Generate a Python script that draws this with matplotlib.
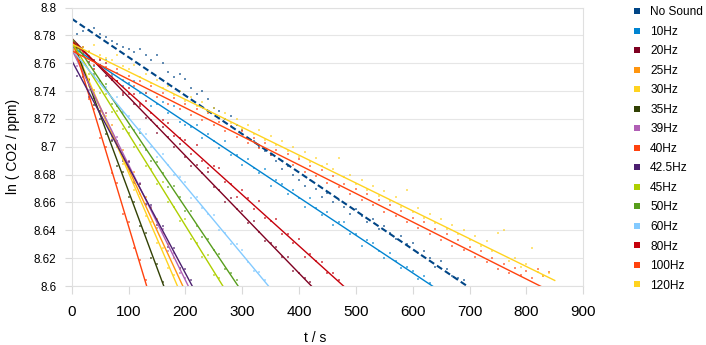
#!/usr/bin/python3

import numpy as np
import matplotlib
matplotlib.use("Agg")
import matplotlib.pyplot as plt
from matplotlib.lines import Line2D

plt.rcParams['font.family'] = ['Liberation Sans', 'DejaVu Sans']

STEP = 10  # seconds between the plotted readings

# ln(CO2/ppm) readings, one every STEP seconds starting at t = 0
no_sound = [8.778, 8.781, 8.783, 8.784, 8.785, 8.781, 8.779, 8.776, 8.774, 8.772,
            8.770, 8.768, 8.770, 8.766, 8.762, 8.766, 8.760, 8.754, 8.750, 8.752,
            8.749, 8.742, 8.738, 8.740, 8.734, 8.728, 8.726, 8.720, 8.722, 8.716,
            8.712, 8.706, 8.704, 8.700, 8.697, 8.694, 8.690, 8.684, 8.686, 8.680,
            8.676, 8.672, 8.676, 8.670, 8.664, 8.667, 8.660, 8.662, 8.657, 8.652,
            8.655, 8.650, 8.646, 8.648, 8.641, 8.643, 8.638, 8.634, 8.636, 8.630,
            8.631, 8.624, 8.625, 8.620, 8.614, 8.618, 8.612, 8.607, 8.606, 8.604]
hz10 = [8.777, 8.771, 8.766, 8.768, 8.758, 8.759, 8.762, 8.751, 8.753, 8.744,
        8.746, 8.747, 8.739, 8.739, 8.729, 8.731, 8.732, 8.724, 8.729, 8.718,
        8.716, 8.714, 8.716, 8.706, 8.709, 8.704, 8.699, 8.704, 8.694, 8.694,
        8.687, 8.691, 8.685, 8.681, 8.684, 8.672, 8.676, 8.673, 8.666, 8.669,
        8.663, 8.657, 8.663, 8.656, 8.651, 8.653, 8.644, 8.646, 8.646, 8.637,
        8.637, 8.629, 8.633, 8.631, 8.625, 8.620, 8.624, 8.618, 8.613, 8.614,
        8.611, 8.605, 8.607, 8.602]
hz20 = [8.781, 8.773, 8.772, 8.761, 8.762, 8.762, 8.751, 8.749, 8.747, 8.737,
        8.738, 8.731, 8.731, 8.721, 8.719, 8.710, 8.714, 8.707, 8.700, 8.702,
        8.693, 8.686, 8.687, 8.681, 8.682, 8.671, 8.669, 8.660, 8.663, 8.655,
        8.654, 8.645, 8.647, 8.639, 8.632, 8.631, 8.628, 8.621, 8.621, 8.611,
        8.609, 8.606, 8.603]
hz25 = [8.775, 8.767, 8.751, 8.749, 8.741, 8.726, 8.724, 8.716, 8.700, 8.698,
        8.690, 8.682, 8.673, 8.664, 8.656, 8.648, 8.638, 8.630, 8.620, 8.612]
hz30 = [8.779, 8.763, 8.760, 8.744, 8.741, 8.725, 8.722, 8.706, 8.703, 8.688,
        8.684, 8.669, 8.666, 8.650, 8.646, 8.631, 8.627, 8.613, 8.608]
hz35 = [8.776, 8.771, 8.752, 8.748, 8.730, 8.726, 8.709, 8.704, 8.686, 8.682,
        8.664, 8.660, 8.643, 8.638, 8.620, 8.616, 8.603]
hz39 = [8.773, 8.758, 8.756, 8.741, 8.739, 8.725, 8.724, 8.708, 8.707, 8.691,
        8.690, 8.675, 8.674, 8.658, 8.657, 8.642, 8.641, 8.625, 8.624, 8.609, 8.606]
hz40 = [8.781, 8.768, 8.755, 8.734, 8.727, 8.706, 8.700, 8.681, 8.674, 8.652,
        8.646, 8.627, 8.619, 8.604]
hz42_5 = [8.766, 8.751, 8.750, 8.736, 8.735, 8.720, 8.719, 8.705, 8.704, 8.690,
          8.689, 8.674, 8.673, 8.659, 8.658, 8.644, 8.643, 8.628, 8.627, 8.613,
          8.612, 8.604]
hz45 = [8.778, 8.765, 8.765, 8.752, 8.751, 8.739, 8.738, 8.725, 8.726, 8.713,
        8.710, 8.700, 8.701, 8.686, 8.684, 8.673, 8.675, 8.660, 8.657, 8.647,
        8.648, 8.634, 8.631, 8.621, 8.622, 8.608, 8.606]
hz50 = [8.780, 8.769, 8.767, 8.764, 8.752, 8.747, 8.745, 8.731, 8.729, 8.725,
        8.714, 8.712, 8.710, 8.698, 8.690, 8.689, 8.681, 8.671, 8.672, 8.664,
        8.654, 8.654, 8.643, 8.635, 8.634, 8.626, 8.623, 8.612, 8.609, 8.604]
hz60 = [8.769, 8.768, 8.758, 8.759, 8.750, 8.742, 8.743, 8.735, 8.736, 8.724,
        8.722, 8.712, 8.713, 8.709, 8.700, 8.693, 8.695, 8.687, 8.680, 8.678,
        8.675, 8.663, 8.664, 8.656, 8.652, 8.651, 8.640, 8.638, 8.630, 8.630,
        8.626, 8.617, 8.611, 8.610, 8.604]
hz80 = [8.780, 8.772, 8.767, 8.768, 8.756, 8.759, 8.760, 8.748, 8.747, 8.739,
        8.742, 8.738, 8.729, 8.733, 8.724, 8.715, 8.719, 8.717, 8.708, 8.706,
        8.705, 8.695, 8.701, 8.690, 8.685, 8.686, 8.685, 8.675, 8.673, 8.664,
        8.669, 8.663, 8.655, 8.661, 8.649, 8.647, 8.648, 8.637, 8.637, 8.631,
        8.634, 8.621, 8.623, 8.618, 8.617, 8.609, 8.609, 8.604]
hz100 = [8.776, 8.770, 8.768, 8.765, 8.759, 8.763, 8.757, 8.752, 8.756, 8.748,
         8.751, 8.744, 8.747, 8.739, 8.744, 8.736, 8.739, 8.731, 8.735, 8.727,
         8.731, 8.723, 8.727, 8.719, 8.724, 8.716, 8.718, 8.711, 8.715, 8.707,
         8.711, 8.703, 8.706, 8.699, 8.703, 8.694, 8.698, 8.690, 8.695, 8.687,
         8.691, 8.682, 8.686, 8.679, 8.683, 8.674, 8.679, 8.671, 8.673, 8.666,
         8.670, 8.662, 8.666, 8.658, 8.662, 8.653, 8.658, 8.650, 8.654, 8.646,
         8.649, 8.642, 8.646, 8.637, 8.641, 8.633, 8.637, 8.629, 8.633, 8.626,
         8.628, 8.621, 8.625, 8.617, 8.620, 8.612, 8.616, 8.609, 8.613, 8.608,
         8.611, 8.606, 8.612, 8.607, 8.610]
hz120 = [8.778, 8.774, 8.772, 8.769, 8.773, 8.766, 8.764, 8.762, 8.766, 8.758,
         8.756, 8.759, 8.750, 8.752, 8.746, 8.748, 8.742, 8.744, 8.737, 8.740,
         8.733, 8.736, 8.729, 8.732, 8.725, 8.728, 8.721, 8.724, 8.717, 8.720,
         8.713, 8.716, 8.709, 8.712, 8.705, 8.708, 8.701, 8.704, 8.697, 8.700,
         8.693, 8.696, 8.689, 8.692, 8.686, 8.688, 8.684, 8.692, 8.678, 8.680,
         8.673, 8.676, 8.669, 8.672, 8.665, 8.668, 8.661, 8.664, 8.657, 8.669,
         8.653, 8.656, 8.649, 8.652, 8.645, 8.648, 8.641, 8.644, 8.637, 8.640,
         8.633, 8.636, 8.629, 8.632, 8.625, 8.638, 8.640, 8.618, 8.620, 8.614,
         8.616, 8.627, 8.610, 8.607, 8.609]

labels = ["No Sound", "10Hz", "20Hz", "25Hz", "30Hz", "35Hz", "39Hz", "40Hz",
          "42.5Hz", "45Hz", "50Hz", "60Hz", "80Hz", "100Hz", "120Hz"]
readings = [no_sound, hz10, hz20, hz25, hz30, hz35, hz39, hz40,
            hz42_5, hz45, hz50, hz60, hz80, hz100, hz120]
# linear trend lines: ln value at t = 0 and slope per second
trend_start = [8.792, 8.772, 8.778, 8.772, 8.776, 8.778, 8.770, 8.778,
               8.762, 8.775, 8.778, 8.770, 8.776, 8.769, 8.774]
trend_slope = [-0.000276, -0.000271, -0.000422, -0.00088, -0.000946, -0.001099,
               -0.000829, -0.00135, -0.000764, -0.000658, -0.000608, -0.000491,
               -0.000368, -0.000205, -0.0002]
colors = ["#004586", "#0084d1", "#7e0021", "#ff950e", "#ffd320", "#314004",
          "#b05fb5", "#ff420e", "#4b1f6f", "#aecf00", "#579d1c", "#83caff",
          "#c5000b", "#ff420e", "#ffd320"]

fig = plt.figure(figsize=(7.06, 3.45), dpi=100)
ax = fig.add_axes([0.1016, 0.171, 0.7244, 0.807])

for vals, c in zip(readings, colors):
    t = np.arange(len(vals)) * STEP
    ax.plot(t, vals, linestyle="none", marker="s", markersize=2.0,
            markeredgewidth=0, color=c, alpha=0.6)

for i, vals in enumerate(readings):
    # trend spans the readings plus one step, the axes clip it at 8.6
    tt = np.array([0, len(vals) * STEP])
    yy = trend_start[i] + trend_slope[i] * tt
    if i == 0:
        ax.plot(tt, yy, color=colors[i], lw=1.5, dashes=(3, 1.6))
    else:
        ax.plot(tt, yy, color=colors[i], lw=1.0)

ax.set_xlim(0, 900)
ax.set_ylim(8.6, 8.8)
ax.set_xticks(np.arange(0, 901, 100))
ax.set_yticks(np.arange(8.6, 8.8001, 0.02))
ax.set_yticklabels(["8.6", "8.62", "8.64", "8.66", "8.68", "8.7", "8.72",
                    "8.74", "8.76", "8.78", "8.8"])
ax.grid(axis="y", color="#e6e6e6", lw=0.8)
ax.set_axisbelow(True)
for s in ax.spines.values():
    s.set_color("#e0e0e0")
    s.set_linewidth(0.8)
ax.tick_params(axis="x", length=6, color="#d9d9d9", pad=8, labelsize=11)
ax.tick_params(axis="y", length=5, color="#d9d9d9", pad=6, labelsize=8.4)

ax.set_xlabel("t / s", fontsize=10, va="center")
ax.xaxis.set_label_coords(0.476, -0.187)
ax.set_ylabel("ln ( CO2 / ppm)", fontsize=10, va="center")
ax.yaxis.set_label_coords(-0.115, 0.5)

handles = [Line2D([], [], linestyle="none", marker="s", markersize=5,
                  markeredgewidth=0, color=c) for c in colors]
fig.legend(handles, labels, loc="upper left", bbox_to_anchor=(0.8938, 0.982),
           frameon=False, fontsize=8.6, borderpad=0, handlelength=1.0,
           handletextpad=0.6, labelspacing=0.63, borderaxespad=0)

plt.savefig("out.png", dpi=100)
